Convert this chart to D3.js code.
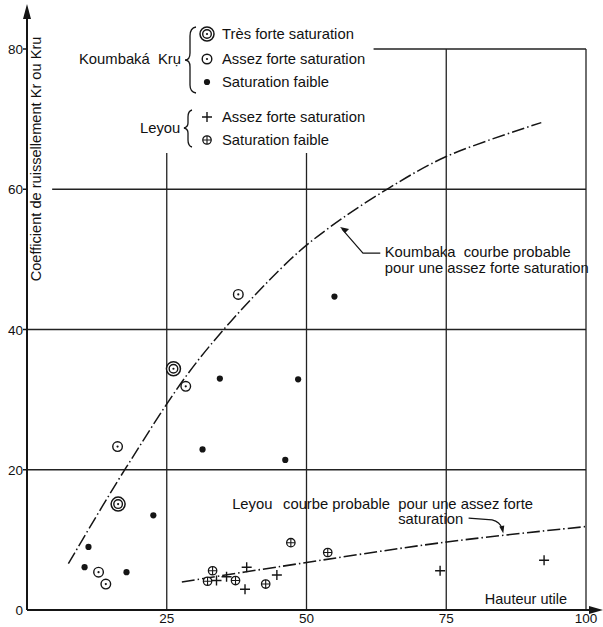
<!DOCTYPE html>
<html>
<head>
<meta charset="utf-8">
<script src="https://cdn.jsdelivr.net/npm/d3@7/dist/d3.min.js"></script>
<style>
  html, body { margin: 0; padding: 0; background: #fff; }
  svg { display: block; }
  text { font-family: "Liberation Sans", Arial, sans-serif; fill: #111; }
</style>
</head>
<body>
<svg id="chart" width="603" height="627"></svg>
<script>
// ---- data ----
const xTicks = [25, 50, 75, 100];
const yTicks = [0, 20, 40, 60, 80];
// Koumbaka Kru
const kTresForte = [[26.2, 34.4], [16.3, 15.1]];
const kAssezForte = [[28.4, 31.9], [16.2, 23.3], [37.8, 45.0], [12.8, 5.4], [14.1, 3.7]];
const kFaible = [[34.5, 33.0], [48.5, 32.9], [31.4, 22.9], [46.2, 21.4], [22.6, 13.5],
                 [11.0, 9.0], [10.3, 6.1], [17.8, 5.4], [55.0, 44.7]];
// Leyou
const lAssezForte = [[33.9, 4.2], [35.7, 4.75], [39.3, 6.1], [39.0, 2.95], [44.7, 5.0], [73.9, 5.6], [92.5, 7.1]];
const lFaible = [[33.2, 5.6], [32.3, 4.1], [37.3, 4.2], [42.7, 3.7], [47.2, 9.6], [53.8, 8.2]];
// probable curves
const koumbakaCurve = [[7.4, 6.6], [17.8, 20.4], [30.6, 35.6], [47.0, 49.9], [54.2, 54.6],
                       [64.6, 60.1], [75.1, 64.7], [92.0, 69.5]];
const leyouCurve = [[27.7, 4.0], [45.3, 6.2], [75.1, 9.7], [100, 11.9]];

// ---- scales ----
const svg = d3.select("#chart");
const x = d3.scaleLinear().domain([0, 100]).range([27, 586]);
const y = d3.scaleLinear().domain([0, 80]).range([610, 49]);
const ink = "#151515";
const fs = 14.8;

// ---- grid ----
const grid = svg.append("g").attr("stroke", "#222").attr("stroke-width", 1.3).attr("fill", "none");
const hGrid = [{v: 20, x0: 0}, {v: 40, x0: 0}, {v: 60, x0: 4.5}, {v: 80, x0: 62}];
hGrid.forEach(g => grid.append("line")
  .attr("x1", x(g.x0)).attr("x2", x(100)).attr("y1", y(g.v)).attr("y2", y(g.v)));
const vGrid = [{v: 25, top: 65.5}, {v: 50, top: 66}, {v: 75, top: 80}, {v: 100, top: 80}];
vGrid.forEach(g => grid.append("line")
  .attr("x1", x(g.v)).attr("x2", x(g.v)).attr("y1", y(0)).attr("y2", y(g.top)));

// ---- axes ----
const axes = svg.append("g").attr("stroke", ink).attr("stroke-width", 2).attr("fill", "none");
axes.append("line").attr("x1", x(0)).attr("x2", 596).attr("y1", y(0)).attr("y2", y(0));
axes.append("line").attr("x1", x(0)).attr("x2", x(0)).attr("y1", y(0)).attr("y2", 16);
svg.append("path").attr("d", `M${x(0)},4 L${x(0) - 4},19 L${x(0) + 4},19 Z`).attr("fill", ink);
svg.append("path").attr("d", `M603,${y(0)} L589,${y(0) - 4} L589,${y(0) + 4} Z`).attr("fill", ink);
yTicks.filter(d => d > 0).forEach(d => axes.append("line")
  .attr("x1", x(0) - 4).attr("x2", x(0)).attr("y1", y(d)).attr("y2", y(d)).attr("stroke-width", 1.5));

svg.selectAll(".ytl").data(yTicks).enter().append("text")
  .attr("x", x(0) - 4).attr("y", d => y(d) + 5)
  .attr("text-anchor", "end").attr("font-size", 13.5).text(d => d);
svg.selectAll(".xtl").data(xTicks).enter().append("text")
  .attr("x", d => x(d)).attr("y", 623)
  .attr("text-anchor", "middle").attr("font-size", 13.5).text(d => d);

svg.append("text").attr("transform", `translate(41,159) rotate(-90)`)
  .attr("text-anchor", "middle").attr("font-size", 14.6)
  .text("Coefficient de ruissellement Kr ou Kru");
svg.append("text").attr("x", 567).attr("y", 604).attr("text-anchor", "end")
  .attr("font-size", 14.5).text("Hauteur utile");

// ---- curves ----
const line = d3.line().x(d => x(d[0])).y(d => y(d[1])).curve(d3.curveCatmullRom.alpha(0.5));
svg.append("path").datum(koumbakaCurve).attr("d", line)
  .attr("fill", "none").attr("stroke", ink).attr("stroke-width", 1.5)
  .attr("stroke-dasharray", "13,3,1.5,3");
svg.append("path").datum(leyouCurve).attr("d", line)
  .attr("fill", "none").attr("stroke", ink).attr("stroke-width", 1.6)
  .attr("stroke-dasharray", "13,3,1.5,3");

// ---- symbols ----
function drawTres(g, cx, cy) {
  g.append("circle").attr("cx", cx).attr("cy", cy).attr("r", 7).attr("fill", "#fff").attr("stroke", ink).attr("stroke-width", 1.5);
  g.append("circle").attr("cx", cx).attr("cy", cy).attr("r", 4.3).attr("fill", "none").attr("stroke", ink).attr("stroke-width", 1.4);
  g.append("circle").attr("cx", cx).attr("cy", cy).attr("r", 1.1).attr("fill", ink);
}
function drawAssez(g, cx, cy) {
  g.append("circle").attr("cx", cx).attr("cy", cy).attr("r", 4.8).attr("fill", "#fff").attr("stroke", ink).attr("stroke-width", 1.4);
  g.append("circle").attr("cx", cx).attr("cy", cy).attr("r", 1.1).attr("fill", ink);
}
function drawFaible(g, cx, cy) {
  g.append("circle").attr("cx", cx).attr("cy", cy).attr("r", 3.1).attr("fill", ink);
}
function drawPlus(g, cx, cy) {
  g.append("path").attr("d", `M${cx - 5},${cy} H${cx + 5} M${cx},${cy - 5} V${cy + 5}`)
    .attr("stroke", ink).attr("stroke-width", 1.4).attr("fill", "none");
}
function drawOPlus(g, cx, cy) {
  g.append("circle").attr("cx", cx).attr("cy", cy).attr("r", 4.2).attr("fill", "#fff").attr("stroke", ink).attr("stroke-width", 1.3);
  g.append("path").attr("d", `M${cx - 4.2},${cy} H${cx + 4.2} M${cx},${cy - 4.2} V${cy + 4.2}`)
    .attr("stroke", ink).attr("stroke-width", 1.1).attr("fill", "none");
}
const pts = svg.append("g");
kTresForte.forEach(d => drawTres(pts, x(d[0]), y(d[1])));
kAssezForte.forEach(d => drawAssez(pts, x(d[0]), y(d[1])));
kFaible.forEach(d => drawFaible(pts, x(d[0]), y(d[1])));
lAssezForte.forEach(d => drawPlus(pts, x(d[0]), y(d[1])));
lFaible.forEach(d => drawOPlus(pts, x(d[0]), y(d[1])));

// ---- legend ----
const lg = svg.append("g");
lg.append("rect").attr("x", 70).attr("y", 18).attr("width", 300).attr("height", 135).attr("fill", "#fff");
lg.append("text").attr("x", 79).attr("y", 64).attr("font-size", fs).attr("xml:space", "preserve").text("Koumbaká  Krụ");
lg.append("path").attr("d", "M196,27 Q190,28 190,36 L190,53 Q190,60 185,60 Q190,60 190,67 L190,85 Q190,92 196,93")
  .attr("fill", "none").attr("stroke", ink).attr("stroke-width", 1.3);
drawTres(lg, 207, 34); lg.append("text").attr("x", 222).attr("y", 39).attr("font-size", fs).text("Très forte saturation");
drawAssez(lg, 207, 59); lg.append("text").attr("x", 222).attr("y", 64).attr("font-size", fs).text("Assez forte saturation");
drawFaible(lg, 207, 82); lg.append("text").attr("x", 222).attr("y", 87).attr("font-size", fs).text("Saturation faible");

lg.append("text").attr("x", 140).attr("y", 133).attr("font-size", fs).text("Leyou");
lg.append("path").attr("d", "M192,110 Q188,111 188,117 L188,123 Q188,127 184,128 Q188,129 188,133 L188,140 Q188,146 192,147")
  .attr("fill", "none").attr("stroke", ink).attr("stroke-width", 1.3);
drawPlus(lg, 207, 117); lg.append("text").attr("x", 222).attr("y", 122).attr("font-size", fs).text("Assez forte saturation");
drawOPlus(lg, 207, 140); lg.append("text").attr("x", 222).attr("y", 145).attr("font-size", fs).text("Saturation faible");

// ---- annotations ----
const an = svg.append("g");
an.append("text").attr("x", x(64.0)).attr("y", y(50.4)).attr("font-size", fs).attr("xml:space", "preserve")
  .text("Koumbaka  courbe probable");
an.append("text").attr("x", x(64.0)).attr("y", y(48.1)).attr("font-size", fs)
  .text("pour une assez forte saturation");
an.append("path")
  .attr("d", `M${x(63.2)},${y(50.9)} H${x(60.1)} L${x(56.0) + 2},${y(54.6) + 2}`)
  .attr("fill", "none").attr("stroke", ink).attr("stroke-width", 1.2);
an.append("path")
  .attr("d", `M${x(56.0)},${y(54.6)} l9,2 l-4,4 Z`).attr("fill", ink);

an.append("text").attr("x", x(36.7)).attr("y", y(14.45)).attr("font-size", fs).text("Leyou");
an.append("text").attr("x", x(45.8)).attr("y", y(14.45)).attr("font-size", fs).text("courbe probable");
an.append("text").attr("x", x(66.4)).attr("y", y(14.45)).attr("font-size", fs).text("pour une assez forte");
an.append("text").attr("x", x(66.4)).attr("y", y(12.3)).attr("font-size", fs).text("saturation");
an.append("path")
  .attr("d", `M${x(79.0)},${y(13.1)} L${x(83.2)},${y(12.85)} Q${x(84.6)},${y(12.6)} ${x(85.0)},${y(11.6)}`)
  .attr("fill", "none").attr("stroke", ink).attr("stroke-width", 1.2);
an.append("path")
  .attr("d", `M${x(85.2)},${y(10.9)} l-4,-7 l5,-1 Z`).attr("fill", ink);
</script>
</body>
</html>
